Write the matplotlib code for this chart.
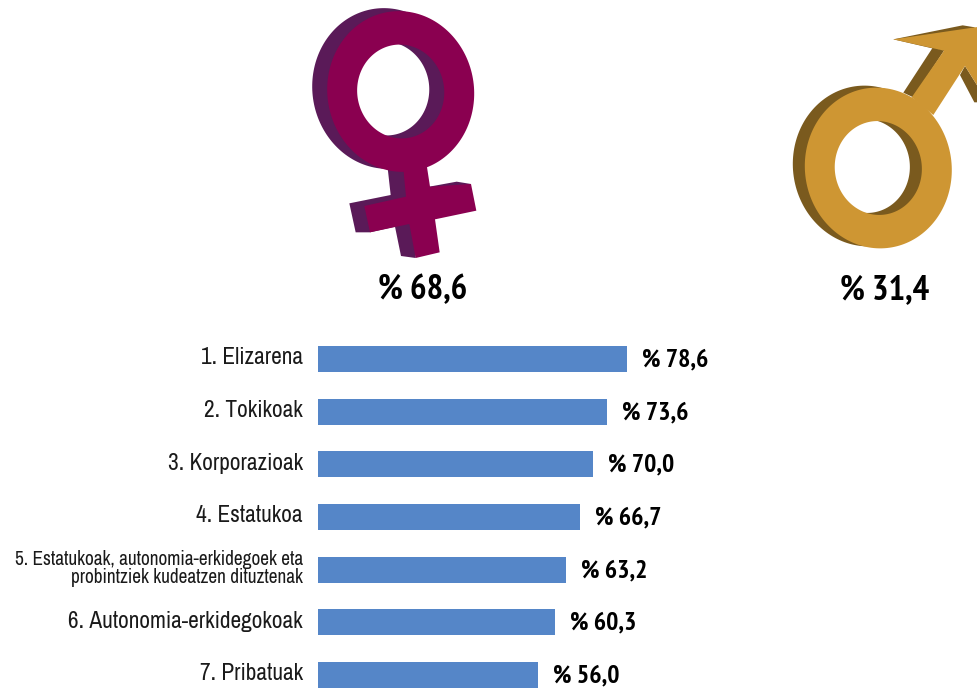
import numpy as np
import matplotlib
matplotlib.use("Agg")
import matplotlib.pyplot as plt
from matplotlib.path import Path
from matplotlib.patches import PathPatch, Polygon

categories = ["1. Elizarena", "2. Tokikoak", "3. Korporazioak", "4. Estatukoa",
              "5. Estatukoak, autonomia-erkidegoek eta\nprobintziek kudeatzen dituztenak",
              "6. Autonomia-erkidegokoak", "7. Pribatuak"]
values = [78.6, 73.6, 70.0, 66.7, 63.2, 60.3, 56.0]
gender_labels = ["% 68,6", "% 31,4"]

W, H = 978, 688
reg_font = ["Archivo Narrow", "Liberation Sans"]
bold_font = ["PT Sans Narrow", "Liberation Sans"]

fig = plt.figure(figsize=(W / 100, H / 100), dpi=100)

# overlay in pixel coordinates for the symbols
sym = fig.add_axes([0, 0, 1, 1])
sym.set_xlim(0, W)
sym.set_ylim(H, 0)
sym.axis("off")


def ring(cx, cy, w, h, hw, hh, angle):
    t = np.linspace(0, 2 * np.pi, 181)
    a = np.deg2rad(angle)

    def ell(ew, eh, tt):
        x = ew / 2 * np.cos(tt)
        y = eh / 2 * np.sin(tt)
        return np.c_[cx + x * np.cos(a) - y * np.sin(a), cy + x * np.sin(a) + y * np.cos(a)]

    verts = np.vstack([ell(w, h, t), ell(hw, hh, t[::-1])])
    codes = [Path.MOVETO] + [Path.LINETO] * 180 + [Path.MOVETO] + [Path.LINETO] * 180
    return PathPatch(Path(verts, codes), lw=0)


def draw_ring(cx, cy, shift, color, back):
    p = ring(cx + shift[0], cy + shift[1], 146.7, 161, 87, 94, -8)
    p.set_facecolor(back)
    sym.add_patch(p)
    p = ring(cx, cy, 146.7, 161, 87, 94, -8)
    p.set_facecolor(color)
    sym.add_patch(p)


def zoomed(pts, ox, oy):
    return [(ox + x / 3, oy + y / 3) for x, y in pts]


# Female symbol
fem, fem_back = "#8A0050", "#5A1A58"
for pts in ([(262, 495), (272, 585), (148, 610), (167, 697), (210, 697), (285, 680), (303, 768), (347, 774), (350, 495)],
            [(388, 560), (470, 545), (513, 552), (480, 590)]):
    sym.add_patch(Polygon(zoomed(pts, 300, 0), fc=fem_back, lw=0))
draw_ring(400.7, 91.5, (-15, -3), fem, fem_back)
sym.add_patch(Polygon(zoomed([(310, 505), (380, 495), (390, 560), (513, 552), (529, 632), (405, 658), (419, 757),
                              (347, 774), (328, 672), (210, 697), (193, 618), (318, 590)], 300, 0), fc=fem, lw=0))

# Male symbol
mal, mal_back = "#CE9633", "#7A5A1E"
for pts in ([(340, 88), (548, 46), (585, 52), (500, 125)],
            [(370, 248), (458, 113), (492, 122), (400, 262)],
            [(540, 195), (583, 277), (600, 277), (600, 240), (555, 168)]):
    sym.add_patch(Polygon(zoomed(pts, 780, 10), fc=mal_back, lw=0))
draw_ring(878.3, 168, (-12, -2), mal, mal_back)
sym.add_patch(Polygon(zoomed([(340, 88), (585, 52), (600, 50), (600, 240), (555, 168), (460, 315), (395, 262), (492, 122)],
                             780, 10), fc=mal, lw=0))

sym.text(423, 290, gender_labels[0], ha="center", va="center", fontsize=25, fontweight="bold", family=bold_font)
sym.text(885, 290, gender_labels[1], ha="center", va="center", fontsize=25, fontweight="bold", family=bold_font)

# Bars
ax = fig.add_axes([318 / W, 0, 1 - 318 / W, 1 - 332.67 / H])
y = np.arange(len(values))
ax.barh(y, values, height=0.49, color="#5586C8", clip_on=False)
ax.set_xlim(0, 660 / 3.93)
ax.set_ylim(6.246, -0.5)
ax.axis("off")
for i, (c, v) in enumerate(zip(categories, values)):
    ax.text(-15 / 3.93, i - 0.02, c, ha="right", va="center", family=reg_font,
            fontsize=13.9 if i == 4 else 16.8, linespacing=0.9, color="#1a1a1a")
    ax.text(v + 15 / 3.93, i + 0.02, "% " + f"{v:.1f}".replace(".", ","), ha="left", va="center",
            fontsize=18.5, fontweight="bold", family=bold_font, color="black")

fig.savefig("out.png", dpi=100)
